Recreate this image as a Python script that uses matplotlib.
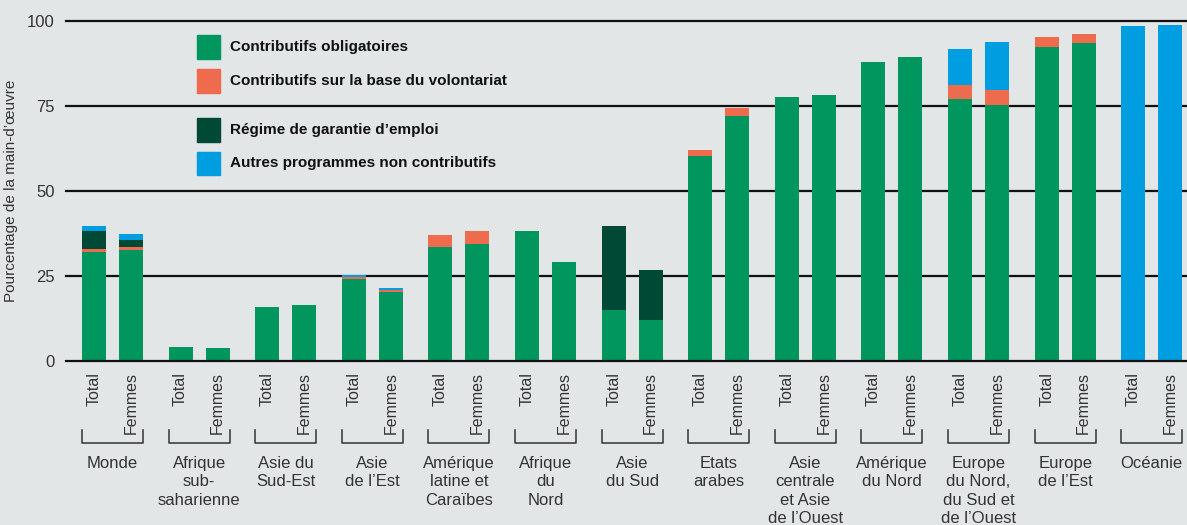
import matplotlib.pyplot as plt
from matplotlib.patches import Rectangle
import numpy as np

plt.rcParams['font.family'] = ['Liberation Sans', 'DejaVu Sans']

groupes = ["Monde", "Afrique\nsub-\nsaharienne", "Asie du\nSud-Est", "Asie\nde l\u2019Est",
           "Am\u00e9rique\nlatine et\nCara\u00efbes", "Afrique\ndu\nNord", "Asie\ndu Sud",
           "Etats\narabes", "Asie\ncentrale\net Asie\nde l\u2019Ouest", "Am\u00e9rique\ndu Nord",
           "Europe\ndu Nord,\ndu Sud et\nde l\u2019Ouest", "Europe\nde l\u2019Est", "Oc\u00e9anie"]
sous = ["Total", "Femmes"]

# valeurs (Total, Femmes) par groupe
oblig_t = [32.1, 4.1, 15.9, 24.1, 33.5, 38.2, 15.0, 60.3, 77.6, 87.9, 77.1, 92.4, 0]
oblig_f = [32.6, 3.8, 16.5, 20.3, 34.4, 29.1, 12.1, 72.1, 78.2, 89.4, 75.3, 93.5, 0]
volont_t = [0.8, 0, 0, 0.6, 3.6, 0, 0, 1.8, 0, 0, 4.2, 2.9, 0]
volont_f = [0.9, 0, 0, 0.6, 3.8, 0, 0, 2.3, 0, 0, 4.5, 2.7, 0]
garant_t = [5.3, 0, 0, 0, 0, 0, 24.7, 0, 0, 0, 0, 0, 0]
garant_f = [2.1, 0, 0, 0, 0, 0, 14.7, 0, 0, 0, 0, 0, 0]
autres_t = [1.5, 0, 0, 0.6, 0, 0, 0, 0, 0, 0, 10.5, 0, 98.5]
autres_f = [1.8, 0, 0, 0.6, 0, 0, 0, 0, 0, 0, 14.0, 0, 98.8]

series = [
    ("Contributifs obligatoires", "#00965e", oblig_t, oblig_f),
    ("Contributifs sur la base du volontariat", "#ee6b4d", volont_t, volont_f),
    ("R\u00e9gime de garantie d\u2019emploi", "#004a35", garant_t, garant_f),
    ("Autres programmes non contributifs", "#009ee0", autres_t, autres_f),
]

bg = "#e2e6e7"
txt = "#333333"

fig = plt.figure(figsize=(11.87, 5.25), dpi=100, facecolor=bg)
W, H = 1187, 525
ax = fig.add_axes([66 / W, 1 - 361 / H, 1 - 66 / W, 340 / H])
ax.set_facecolor(bg)

n = len(groupes)
x = np.arange(n)
dx = 0.427
w = 0.277
xt = x
xf = x + dx

bot_t = np.zeros(n)
bot_f = np.zeros(n)
for nom, col, vt, vf in series:
    vt = np.array(vt)
    vf = np.array(vf)
    ax.bar(xt, vt, w, bottom=bot_t, color=col, zorder=2)
    ax.bar(xf, vf, w, bottom=bot_f, color=col, zorder=2)
    bot_t += vt
    bot_f += vf

for yv in [25, 50, 75, 100]:
    ax.axhline(yv, color="#111111", lw=1.6, zorder=1, clip_on=False)
ax.axhline(0, color="#111111", lw=1.6, zorder=3, clip_on=False)

ax.set_xlim(-0.323, 12.62)
ax.set_ylim(0, 100)
for s in ax.spines.values():
    s.set_visible(False)

ax.set_yticks([0, 25, 50, 75, 100])
ax.tick_params(axis="y", length=0, pad=8, labelsize=12, labelcolor=txt)
ax.set_ylabel("Pourcentage de la main-d\u2019\u0153uvre", fontsize=11, color=txt)
ax.yaxis.set_label_coords(-0.0428, 0.5)

pos = np.concatenate([xt, xf])
labs = ["Total"] * n + ["Femmes"] * n
ax.set_xticks(pos)
ax.set_xticklabels(labs, rotation=90, fontsize=11.5, color=txt)
ax.tick_params(axis="x", length=0, pad=8)

trans = ax.get_xaxis_transform()
for i in range(n):
    x0 = xt[i] - w / 2
    x1 = xf[i] + w / 2
    ax.plot([x0, x0, x1, x1], [-0.203, -0.241, -0.241, -0.203], color=txt, lw=1.1,
            transform=trans, clip_on=False)
    ax.text((x0 + x1) / 2, -0.278, groupes[i], transform=trans, ha="center", va="top",
            fontsize=12, color=txt, linespacing=1.3)

# legende
ly = [47, 81, 130, 163]
for (nom, col, vt, vf), yy in zip(series, ly):
    fig.add_artist(Rectangle((197 / W, 1 - (yy + 11.5) / H), 23 / W, 23 / H,
                             color=col, transform=fig.transFigure))
    fig.text(230 / W, 1 - yy / H, nom, ha="left", va="center", fontsize=11,
             fontweight="bold", color="#111111",
             family=["Liberation Sans Narrow", "Liberation Sans", "DejaVu Sans"])

fig.savefig("out.png", dpi=100, facecolor=bg)
